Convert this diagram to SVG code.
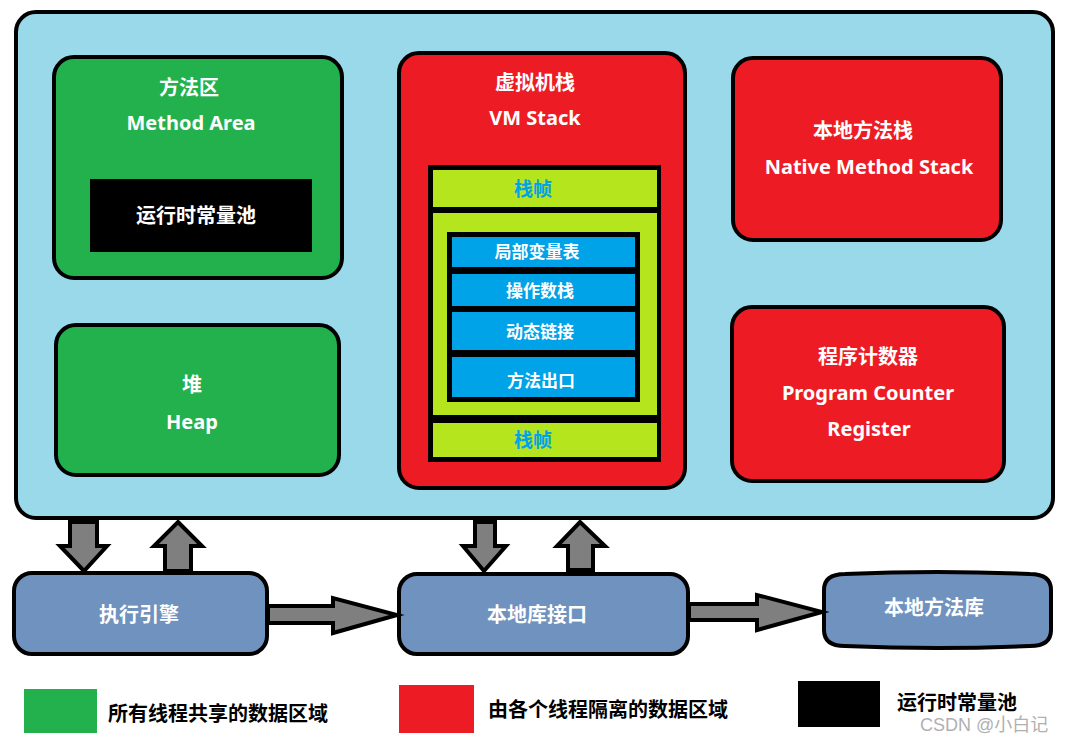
<svg xmlns="http://www.w3.org/2000/svg" width="1068" height="744" viewBox="0 0 1068 744">
<style>
.box{stroke:#000;stroke-width:4}
.green{fill:#22b14c}.red{fill:#ed1c24}.slate{fill:#7092be}.lime{fill:#b5e61d}.cell{fill:#00a2e8}
.t{font-family:"Noto Sans","Noto Sans CJK SC",sans-serif;font-weight:bold;font-size:20px;fill:#fff;text-anchor:middle}
.s{font-size:17px}
.f{font-family:"Noto Sans CJK SC",sans-serif;font-weight:bold;font-size:19px;fill:#00a2e8;text-anchor:middle}
.lg{font-family:"Noto Sans CJK SC",sans-serif;font-weight:bold;font-size:20px;fill:#000}
.arr{fill:#7f7f7f;stroke:#000;stroke-width:4;stroke-linejoin:miter}
</style>
<rect width="1068" height="744" fill="#fff"/>
<g id="runtime-area"><rect class="box" x="16" y="12" width="1037" height="506" rx="20" fill="#99d9ea"/></g>
<g id="method-area">
<rect class="box green" x="54" y="57" width="288" height="221" rx="20"/>
<text class="t" x="189" y="95">方法区</text>
<text class="t" x="191" y="130">Method Area</text>
<rect x="90" y="179" width="222" height="73" fill="#000"/>
<text class="t" x="196" y="223">运行时常量池</text>
</g>
<g id="heap">
<rect class="box green" x="56" y="325" width="283" height="150" rx="20"/>
<text class="t" x="192" y="392">堆</text>
<text class="t" x="192" y="429">Heap</text>
</g>
<g id="vm-stack">
<rect class="box red" x="399" y="53" width="286" height="435" rx="20"/>
<text class="t" x="535" y="90">虚拟机栈</text>
<text class="t" x="535" y="125">VM Stack</text>
<rect x="428" y="165" width="233" height="297" fill="#000"/>
<rect class="lime" x="433" y="170" width="224" height="37"/>
<text class="f" x="533" y="196">栈帧</text>
<rect class="lime" x="433" y="213" width="224" height="202"/>
<rect x="447" y="232" width="193" height="170" fill="#000"/>
<rect class="cell" x="452" y="237" width="183" height="30"/>
<text class="t s" x="537" y="258">局部变量表</text>
<rect class="cell" x="452" y="274" width="183" height="32"/>
<text class="t s" x="540" y="297">操作数栈</text>
<rect class="cell" x="452" y="312" width="183" height="38"/>
<text class="t s" x="540" y="338">动态链接</text>
<rect class="cell" x="452" y="357" width="183" height="40"/>
<text class="t s" x="541" y="387">方法出口</text>
<rect class="lime" x="433" y="423" width="224" height="34"/>
<text class="f" x="533" y="447">栈帧</text>
</g>
<g id="native-method-stack">
<rect class="box red" x="733" y="58" width="268" height="182" rx="20"/>
<text class="t" x="863" y="138">本地方法栈</text>
<text class="t" x="869" y="174">Native Method Stack</text>
</g>
<g id="pc-register">
<rect class="box red" x="732" y="307" width="272" height="174" rx="20"/>
<text class="t" x="868" y="364">程序计数器</text>
<text class="t" x="868" y="400">Program Counter</text>
<text class="t" x="869" y="436">Register</text>
</g>
<g id="execution-engine">
<rect class="box slate" x="14" y="573" width="253" height="81" rx="18"/>
<text class="t" x="139" y="622">执行引擎</text>
</g>
<g id="native-interface">
<rect class="box slate" x="399" y="574" width="289" height="80" rx="18"/>
<text class="t" x="537" y="622">本地库接口</text>
</g>
<g id="native-library">
<path class="box slate" d="M824,590 Q824,574 845,574 Q937,570 1030,574 Q1051,574 1051,590 L1051,630 Q1051,646 1030,646 Q937,650 845,646 Q824,646 824,630 Z"/>
<text class="t" x="934" y="615">本地方法库</text>
</g>
<g id="connectors">
<polygon class="arr" points="70,522 97,522 97,546 107,546 84,571 60,546 70,546"/>
<polygon class="arr" points="178,522 202,546 191,546 191,571 165,571 165,546 154,546"/>
<polygon class="arr" points="475,522 495,522 495,546 506,546 484,571 463,546 475,546"/>
<polygon class="arr" points="580,522 605,546 593,546 593,570 568,570 568,546 557,546"/>
<polygon class="arr" points="268,606 333,606 333,598 397,615 333,633 333,623 268,623"/>
<polygon class="arr" points="689,604 757,604 757,595 822,612 757,630 757,620 689,620"/>
</g>
<g id="legend">
<rect x="24" y="689" width="73" height="44" fill="#22b14c"/>
<text class="lg" x="108" y="721">所有线程共享的数据区域</text>
<rect x="399" y="685" width="75" height="48" fill="#ed1c24"/>
<text class="lg" x="488" y="717">由各个线程隔离的数据区域</text>
<rect x="798" y="681" width="82" height="46" fill="#000"/>
<text class="lg" x="897" y="710">运行时常量池</text>
<text x="920" y="731" font-family="'Liberation Sans','Noto Sans CJK SC',sans-serif" font-size="18" fill="#b0b0b0">CSDN @小白记</text>
</g>
</svg>
